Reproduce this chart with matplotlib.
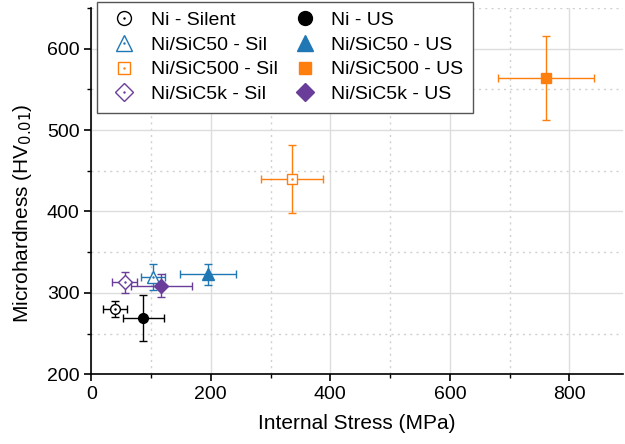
import matplotlib.pyplot as plt
from matplotlib.lines import Line2D
from matplotlib.ticker import MultipleLocator
from matplotlib.legend_handler import HandlerTuple

plt.rcParams['font.family'] = ['Liberation Sans', 'DejaVu Sans']

# internal stress (MPa) and microhardness (HV0.01) with their spreads
labels = ['Ni - Silent', 'Ni - US',
          'Ni/SiC50 - Sil', 'Ni/SiC50 - US',
          'Ni/SiC500 - Sil', 'Ni/SiC500 - US',
          'Ni/SiC5k - Sil', 'Ni/SiC5k - US']
stress = [40, 87, 103, 196, 336, 761, 56, 117]
stress_err = [20, 34, 20, 47, 52, 80, 21, 51]
hardness = [280, 269, 319, 323, 440, 564, 313, 309]
hardness_err = [10, 28, 16, 13, 42, 52, 13, 14]

colors = ['black', 'black', '#1f77b4', '#1f77b4',
          '#ff7f0e', '#ff7f0e', '#6a3d9a', '#6a3d9a']
markers = ['o', 'o', '^', '^', 's', 's', 'D', 'D']
sizes = [7, 7, 8, 8, 7, 7, 7, 7]
legend_sizes = [10, 10, 11, 11, 8.5, 8.5, 9.5, 9.5]
filled = [False, True, False, True, False, True, False, True]

fig, ax = plt.subplots(figsize=(6.25, 4.44), dpi=100)
fig.subplots_adjust(left=0.146, right=0.997, bottom=0.157, top=0.982)

handles = []
for i in range(len(labels)):
    face = colors[i] if filled[i] else 'white'
    ax.errorbar(stress[i], hardness[i], xerr=stress_err[i], yerr=hardness_err[i],
                fmt=markers[i], color=colors[i], mfc=face, mec=colors[i],
                ms=sizes[i], mew=1.0, elinewidth=1.0, capsize=3, capthick=1.0,
                zorder=4 if filled[i] else 3)
    h = Line2D([], [], ls='none', marker=markers[i], ms=legend_sizes[i],
               mfc=face, mec=colors[i], mew=1.0)
    if not filled[i]:
        # small centre dot on the open symbols
        ax.plot(stress[i], hardness[i], marker='.', ms=1.5, color=colors[i], zorder=5)
        dot = Line2D([], [], ls='none', marker='.', ms=1.5, color=colors[i])
        h = (h, dot)
    handles.append(h)

# legend fills column by column: silent samples left, ultrasound right
order = [0, 2, 4, 6, 1, 3, 5, 7]

ax.set_xlim(0, 890)
ax.set_ylim(200, 650)
ax.xaxis.set_major_locator(MultipleLocator(200))
ax.xaxis.set_minor_locator(MultipleLocator(100))
ax.yaxis.set_major_locator(MultipleLocator(100))
ax.yaxis.set_minor_locator(MultipleLocator(50))

ax.grid(which='major', color='#dddddd', lw=1.0, ls='-')
ax.grid(which='minor', color='#d0d0d0', lw=1.0, ls=(0, (1.5, 3)))
ax.set_axisbelow(True)

for side in ['top', 'right']:
    ax.spines[side].set_visible(False)
ax.spines['left'].set_linewidth(1.2)
ax.spines['bottom'].set_linewidth(1.2)
ax.tick_params(which='major', direction='out', length=5, width=1.2, labelsize=14)
ax.tick_params(which='minor', direction='out', length=3, width=1.0)

ax.set_xlabel('Internal Stress (MPa)', fontsize=15, labelpad=8)
ax.set_ylabel('Microhardness (HV$_{0.01}$)', fontsize=15)
ax.yaxis.set_label_coords(-0.108, 0.44)

ax.legend([handles[k] for k in order], [labels[k] for k in order],
          ncol=2, loc='upper left', bbox_to_anchor=(0.01, 1.017),
          fontsize=14, frameon=True, fancybox=False, edgecolor='#555555',
          framealpha=1, labelspacing=0.36, handlelength=1.85, handletextpad=0.45,
          columnspacing=0.45, borderpad=0.5, borderaxespad=0,
          handler_map={tuple: HandlerTuple(ndivide=1, pad=0)})

plt.savefig('out.png', dpi=100)
